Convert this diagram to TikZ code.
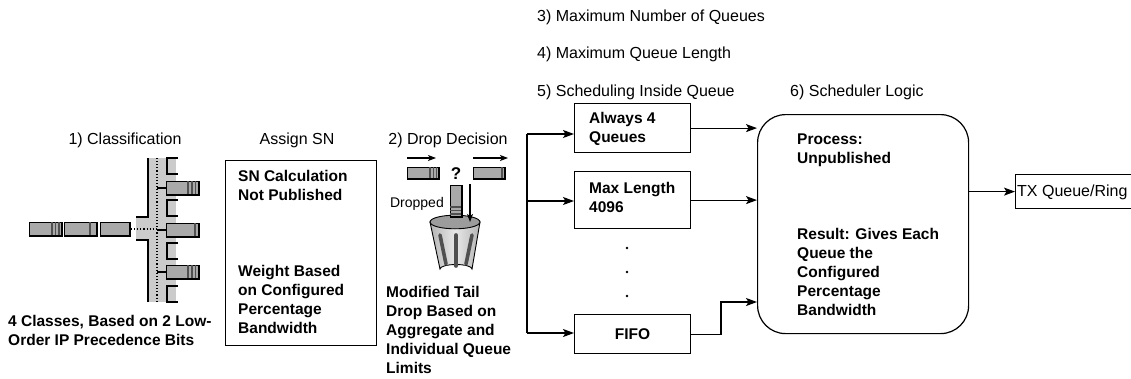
\documentclass[tikz,border=0pt]{standalone}
\usepackage{fontspec}
\setmainfont{Liberation Sans}
\usetikzlibrary{arrows.meta}
\definecolor{band}{HTML}{CBCBCB}
\definecolor{pktgray}{HTML}{A9A9A9}
\definecolor{stripegray}{HTML}{505050}
\definecolor{canlight}{HTML}{E8E8E8}
\definecolor{canmid}{HTML}{B4B4B4}
\definecolor{cantop}{HTML}{9C9C9C}
\begin{document}
\begin{tikzpicture}[x=1pt,y=-1pt,
  lbl/.style={font=\fontsize{16}{19}\selectfont, inner sep=0pt, anchor=base west},
  btxt/.style={font=\fontsize{15.5}{19}\selectfont\bfseries, inner sep=0pt, anchor=north west, align=left},
  boxline/.style={draw=black, line width=1.2pt, inner sep=0pt, anchor=north west},
  arr/.style={line width=1.2pt, -{Stealth[length=11pt,width=8pt,inset=2.5pt]}},
  smallarr/.style={line width=1.1pt, -{Stealth[length=8pt,width=6pt,inset=2pt]}},
  pkt/.style={fill=pktgray, draw=black, line width=0.9pt},
  pktend/.style={draw=black, line width=1.4pt},
  stripe/.style={draw=stripegray, line width=1.1pt},
  wall/.style={draw=black, line width=1.3pt},
  canbar/.style={draw=stripegray, line width=3.6pt, line cap=round}
]
\useasboundingbox (0,0) rectangle (1131,378);
\fill[white] (0,0) rectangle (1131,378);

% ---------- headings ----------
\node[lbl] (h3) at (537,21.5) {3) Maximum Number of Queues};
\node[lbl] (h4) at (537,58.5) {4) Maximum Queue Length};
\node[lbl] (h5) at (537,96) {5) Scheduling Inside Queue};
\node[lbl] (h6) at (790,96) {6) Scheduler Logic};
\node[lbl, anchor=base] (h1) at (125,144) {1) Classification};
\node[lbl, anchor=base] (hsn) at (297,144) {Assign SN};
\node[lbl, anchor=base] (h2) at (448,144) {2) Drop Decision};

% ---------- classification: splitter column ----------
\fill[band] (148,158) rectangle (176,302);
\fill[band] (136,217) rectangle (148,240);
\draw[wall] (148,158) -- (148,217) -- (136,217);
\draw[wall] (136,240) -- (148,240) -- (148,302);
\draw[black, line width=1.1pt, dotted] (157,158) -- (157,302);
\draw[black, line width=1.1pt, dotted] (131,229) -- (157,229);
\foreach \y in {158,200,243,286}
  \draw[wall] (178,\y) -- (167,\y) -- (167,\y+16) -- (178,\y+16);

% incoming packets
\filldraw[pkt] (29,222) rectangle (62,236);
\foreach \s in {52,55.5,59} \draw[stripe] (\s,222) -- (\s,236);
\draw[pktend] (62,222) -- (62,236) -- (29,236);
\filldraw[pkt] (64,222) rectangle (97,236);
\draw[stripe] (90,222) -- (90,236);
\draw[pktend] (97,222) -- (97,236) -- (64,236);
\filldraw[pkt] (100,222) rectangle (130,236);
\draw[pktend] (130,222) -- (130,236) -- (100,236);

% sorted packets with their taps
\foreach \y/\kind in {181/1,223/0,265/1}{
  \draw[black, line width=1.1pt] (157,\y+7) -- (166,\y+7);
  \filldraw[pkt] (166,\y) rectangle (199,\y+14);
  \ifnum\kind=1
    \foreach \s in {188,192,195.5} \draw[stripe] (\s,\y) -- (\s,\y+14);
  \else
    \draw[stripe] (195,\y) -- (195,\y+14);
  \fi
  \draw[pktend] (199,\y) -- (199,\y+14) -- (166,\y+14);
}

\node[btxt] (classes) at (8,315) {4 Classes, Based on 2 Low-\\Order IP Precedence Bits};

% ---------- assign SN ----------
\node[boxline, minimum width=151pt, minimum height=185pt] (assign) at (225,160) {};
\node[btxt] (sncalc) at (238,170) {SN Calculation\\Not Published};
\node[btxt] (weight) at (238,265) {Weight Based\\on Configured\\Percentage\\Bandwidth};

% ---------- drop decision ----------
\coordinate (ina) at (407,158);  \coordinate (inb) at (436,158);
\coordinate (outa) at (473,158); \coordinate (outb) at (508,158);
\draw[smallarr] (ina) -- (inb);
\draw[smallarr] (outa) -- (outb);
\filldraw[pkt] (407,167) rectangle (439,179);
\foreach \s in {430,433.5,436.5} \draw[stripe] (\s,167) -- (\s,179);
\draw[pktend] (439,167) -- (439,179) -- (407,179);
\filldraw[pkt] (473,167) rectangle (505,179);
\draw[stripe] (502,167) -- (502,179);
\draw[pktend] (505,167) -- (505,179) -- (473,179);
\node[font=\fontsize{17}{19}\selectfont\bfseries, inner sep=0pt, anchor=base] (q) at (456,179.5) {?};
\node[font=\fontsize{14}{16}\selectfont, inner sep=0pt, anchor=base east] (dropped) at (444,207) {Dropped};

% waste bin
\shade[left color=canmid, right color=canmid, middle color=canlight, draw=black, line width=0.9pt]
  (430,222) -- (440,269) arc[start angle=180, end angle=360, x radius=16, y radius=4.5] -- (480,222) -- cycle;
\filldraw[fill=cantop, draw=black, line width=0.9pt] (455,222) ellipse[x radius=25, y radius=6.8];
\draw[canbar] (440,235) -- (446,264);
\draw[canbar] (456,235) -- (456,266);
\draw[canbar] (472,235) -- (466,264);
% dropped packet
\filldraw[pkt] (450,185) rectangle (462,217);
\foreach \s in {207,210.5,214} \draw[stripe] (450,\s) -- (462,\s);
\draw[pktend] (450,217) -- (462,217) -- (462,185);
\coordinate (fa) at (470,184); \coordinate (fb) at (470,222);
\draw[smallarr] (fa) -- (fb);

\node[btxt] (tail) at (386,286) {Modified Tail\\Drop Based on\\Aggregate and\\Individual Queue\\Limits};

% ---------- queues ----------
\node[boxline, minimum width=116pt, minimum height=49pt] (qa) at (574,103) {};
\node[btxt] (qatxt) at (589,112) {Always 4\\Queues};
\node[boxline, minimum width=116pt, minimum height=57pt] (qb) at (574,171) {};
\node[btxt] (qbtxt) at (589,182) {Max Length\\4096};
\node[boxline, minimum width=116pt, minimum height=39pt] (qc) at (574,314) {};
\node[font=\fontsize{15.5}{19}\selectfont\bfseries, inner sep=0pt] (qctxt) at (qc.center) {FIFO};
\foreach \y [count=\i] in {248,272,296}
  \fill (627,\y) circle[radius=1.3];

% fan-out to the queues
\coordinate (ja) at (527,134);
\coordinate (jb) at (527,201);
\coordinate (jc) at (527,333);
\draw[line width=1.2pt] (ja) -- (jc);
\draw[arr] (ja) -- (ja -| qa.west);
\draw[arr] (jb) -- (jb -| qb.west);
\draw[arr] (jc) -- (jc -| qc.west);

% ---------- scheduler ----------
\node[boxline, rounded corners=28pt, minimum width=211pt, minimum height=219pt] (sched) at (757,114) {};
\node[btxt] (proc) at (797,134) {Process:\\Unpublished};
\node[btxt] (res) at (797,228) {Result: Gives Each\\Queue the\\Configured\\Percentage\\Bandwidth};

\draw[arr] (qa.east) -- (qa.east -| sched.west);
\draw[arr] (qb.east) -- (qb.east -| sched.west);
\coordinate (bend) at (721,302);
\draw[arr] (qc.east) -- (qc.east -| bend) |- (bend -| sched.west);

% ---------- transmit ring ----------
\node[boxline, minimum width=116pt, minimum height=34pt] (tx) at (1015,174) {};
\node[lbl] (txtxt) at (1017,196.5) {TX Queue/Ring};
\draw[arr] (tx.west -| sched.east) -- (tx.west);
\end{tikzpicture}
\end{document}
